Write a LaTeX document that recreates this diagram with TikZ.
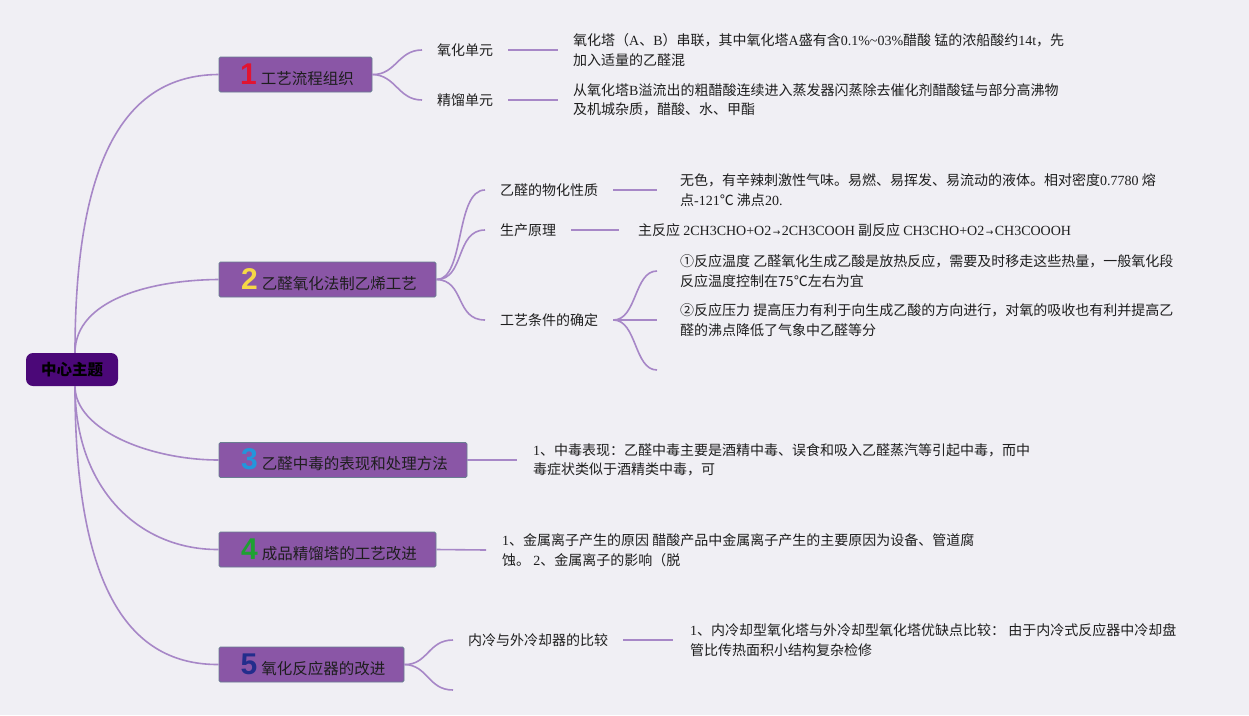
\documentclass[tikz,border=0pt]{standalone}
\usepackage{fontspec}
\setmainfont{Noto Sans CJK SC}
\newfontfamily\latf{Liberation Serif}
\newfontfamily\numf{Liberation Sans}
\newfontfamily\arrf{DejaVu Sans}
\newcommand\lat[1]{{\latf #1}}
\newcommand\arr{{\arrf\fontsize{9}{9}\selectfont\,→\,}}
\newcommand\tnum[2]{{\numf\bfseries\fontsize{30}{30}\selectfont\color{#1}#2}}
\definecolor{bgc}{RGB}{240,239,244}
\definecolor{linec}{RGB}{167,135,199}
\definecolor{topc}{RGB}{138,86,166}
\definecolor{topb}{RGB}{105,125,145}
\definecolor{cenc}{RGB}{75,8,120}
\definecolor{txt}{RGB}{30,30,30}
\definecolor{n1}{RGB}{225,20,50}
\definecolor{n2}{RGB}{245,215,70}
\definecolor{n3}{RGB}{35,150,220}
\definecolor{n4}{RGB}{30,160,50}
\definecolor{n5}{RGB}{35,45,140}
\tikzset{
  conn/.style={draw=linec, line width=1.6pt},
  cennode/.style={fill=cenc, rounded corners=7pt, minimum width=92pt, minimum height=33pt, inner sep=0pt, font=\fontsize{15.5}{18}\selectfont\bfseries, text=black},
  topic/.style={fill=topc, draw=topb, line width=0.8pt, rounded corners=1.5pt, minimum height=35pt, inner sep=0pt, font=\fontsize{15.5}{18}\selectfont, text=txt},
  sub/.style={anchor=west, inner xsep=15pt, inner ysep=2pt, font=\fontsize{14}{19.5}\selectfont, text=txt},
  leaf/.style={anchor=west, inner ysep=2pt, align=left, font=\fontsize{14}{19.5}\selectfont, text=txt}
}
\begin{document}
\begin{tikzpicture}[x=1pt,y=-1pt]
\fill[bgc] (0,0) rectangle (1249,715);
\useasboundingbox (0,0) rectangle (1249,715);

% center
\node[cennode] (cen) at (72,369.5) {中心主题};

% topics
\node[topic, minimum width=153pt] (t1) at (295.5,74.5) {\hspace{3pt}\tnum{n1}{1}\hspace{4pt}工艺流程组织};
\node[topic, minimum width=217pt] (t2) at (327.5,279.5) {\hspace{3pt}\tnum{n2}{2}\hspace{4pt}乙醛氧化法制乙烯工艺};
\node[topic, minimum width=248pt] (t3) at (343,460) {\hspace{3pt}\tnum{n3}{3}\hspace{4pt}乙醛中毒的表现和处理方法};
\node[topic, minimum width=217pt] (t4) at (327.5,549.5) {\hspace{3pt}\tnum{n4}{4}\hspace{4pt}成品精馏塔的工艺改进};
\node[topic, minimum width=185pt] (t5) at (311.5,664.5) {\hspace{3pt}\tnum{n5}{5}\hspace{4pt}氧化反应器的改进};

\draw[conn] ([xshift=3pt]cen.north) .. controls (75,150) and (130,75) .. (t1.west);
\draw[conn] ([xshift=3pt]cen.north) .. controls (75,300) and (150,280) .. (t2.west);
\draw[conn] ([xshift=3pt]cen.south) .. controls (75,430) and (150,460) .. (t3.west);
\draw[conn] ([xshift=3pt]cen.south) .. controls (75,490) and (140,550) .. (t4.west);
\draw[conn] ([xshift=3pt]cen.south) .. controls (75,590) and (130,665) .. (t5.west);

% branch 1
\node[sub] (s11) at (422,50) {氧化单元};
\node[sub] (s12) at (422,100) {精馏单元};
\draw[conn] (t1.east) .. controls (396,75) and (398,50) .. (s11.west);
\draw[conn] (t1.east) .. controls (396,75) and (398,100) .. (s12.west);
\node[leaf, inner xsep=15pt] (l11) at (558,50) {氧化塔（\lat{A}、\lat{B}）串联，其中氧化塔\lat{A}盛有含\lat{0.1\%\textasciitilde 03\%}醋酸 锰的浓船酸约\lat{14t}，先\\加入适量的乙醛混};
\node[leaf, inner xsep=15pt] (l12) at (558,100) {从氧化塔\lat{B}溢流出的粗醋酸连续进入蒸发器闪蒸除去催化剂醋酸锰与部分高沸物\\及机城杂质，醋酸、水、甲酯};
\draw[conn] (s11.east) -- (l11.west);
\draw[conn] (s12.east) -- (l12.west);

% branch 2
\node[sub] (s21) at (485,190) {乙醛的物化性质};
\node[sub] (s22) at (485,230) {生产原理};
\node[sub] (s23) at (485,320) {工艺条件的确定};
\draw[conn] (t2.east) .. controls (465,280) and (455,190) .. (s21.west);
\draw[conn] (t2.east) .. controls (465,280) and (455,230) .. (s22.west);
\draw[conn] (t2.east) .. controls (465,280) and (455,320) .. (s23.west);
\node[leaf, inner xsep=23pt] (l21) at (657,190) {无色，有辛辣刺激性气味。易燃、易挥发、易流动的液体。相对密度\lat{0.7780} 熔\\点\lat{-121}℃ 沸点\lat{20.}};
\node[leaf, inner xsep=19pt] (l22) at (619,230) {主反应 \lat{2CH3CHO+O2}\arr\lat{2CH3COOH} 副反应 \lat{CH3CHO+O2}\arr\lat{CH3COOOH}};
\draw[conn] (s21.east) -- (l21.west);
\draw[conn] (s22.east) -- (l22.west);
\node[leaf, inner xsep=23pt] (l23a) at (657,271) {①反应温度 乙醛氧化生成乙酸是放热反应，需要及时移走这些热量，一般氧化段\\反应温度控制在75℃左右为宜};
\node[leaf, inner xsep=23pt] (l23b) at (657,320) {②反应压力 提高压力有利于向生成乙酸的方向进行，对氧的吸收也有利并提高乙\\醛的沸点降低了气象中乙醛等分};
\coordinate (c23) at (657,370);
\draw[conn] (s23.east) .. controls (637,320) and (634,271) .. (l23a.west);
\draw[conn] (s23.east) -- (l23b.west);
\draw[conn] (s23.east) .. controls (637,320) and (634,370) .. (c23);

% branch 3
\node[leaf, inner xsep=16pt] (l3) at (517,460) {\lat{1}、中毒表现：乙醛中毒主要是酒精中毒、误食和吸入乙醛蒸汽等引起中毒，而中\\毒症状类似于酒精类中毒，可};
\draw[conn] (t3.east) -- (l3.west);

% branch 4
\node[leaf, inner xsep=16pt] (l4) at (486,550) {\lat{1}、金属离子产生的原因 醋酸产品中金属离子产生的主要原因为设备、管道腐\\蚀。 \lat{2}、金属离子的影响（脱};
\draw[conn] (t4.east) -- (l4.west);

% branch 5
\node[sub] (s51) at (453,640) {内冷与外冷却器的比较};
\coordinate (c52) at (453,690);
\draw[conn] (t5.east) .. controls (428,665) and (428,640) .. (s51.west);
\draw[conn] (t5.east) .. controls (428,665) and (428,690) .. (c52);
\node[leaf, inner xsep=17pt] (l5) at (673,640) {\lat{1}、内冷却型氧化塔与外冷却型氧化塔优缺点比较： 由于内冷式反应器中冷却盘\\管比传热面积小结构复杂检修};
\draw[conn] (s51.east) -- (l5.west);
\end{tikzpicture}
\end{document}
